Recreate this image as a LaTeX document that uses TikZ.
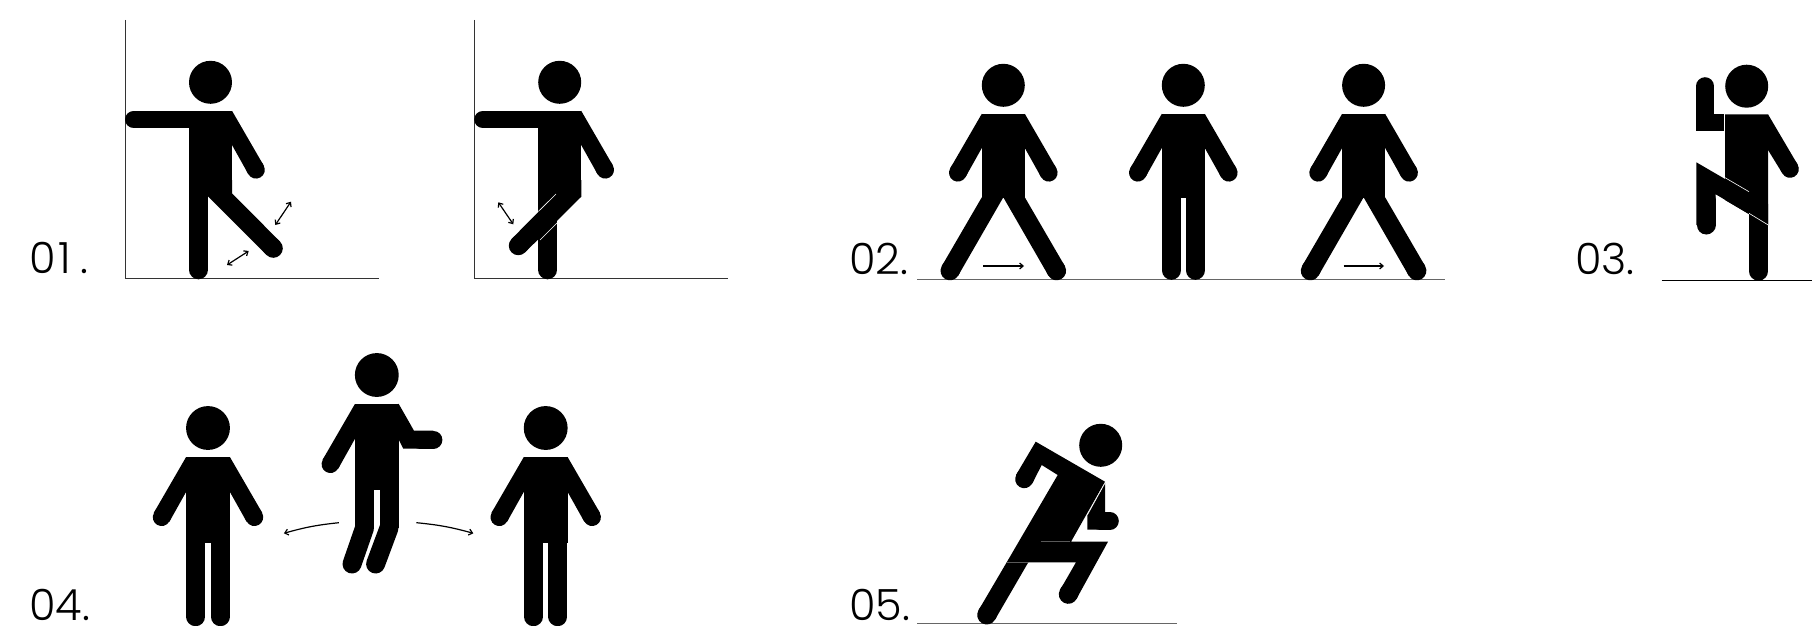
\documentclass[tikz,border=0pt]{standalone}
\usepackage{fontspec}
\setmainfont{Poppins Light}
\usepackage{tikz}
\usetikzlibrary{arrows.meta}

\tikzset{
	>={Straight Barb[length=3.5pt,width=6pt]},
	arm/.style={line width=17.6pt,line cap=round},
	leg/.style={line width=19pt,line cap=round},
	motion/.style={line width=1.2pt},
	axis/.style={line width=1.2pt,draw=black!80},
	ground/.style={line width=1.5pt,draw=black!60},
	seam/.style={line width=0.6pt,draw=white},
	grayseam/.style={line width=0.8pt,draw=black!65},
	lab/.style={anchor=base west,inner sep=0pt,font=\fontsize{43}{43}\selectfont}
}

\newcommand{\armdown}{
	\fill (21.5,28.5) -- (53.14,83.13) -- (37.86,91.87) -- (21.5,62.7) -- cycle;
	\draw[arm] (45.5,87.5) -- (44,84.9);
}
\newcommand{\headtorso}{
	\fill (0,0) circle (21.5);
	\fill (-21.5,28.5) rectangle (21.5,113);
}
\newcommand{\upperbody}{
	\headtorso
	\armdown
	\begin{scope}[xscale=-1]
		\armdown
	\end{scope}
}
\newcommand{\straightlegs}{
	\draw[leg] (-12,185) -- (-12,105);
	\draw[leg] (12,185) -- (12,105);
}
\newcommand{\strideleg}{
	\fill (21.5,112) -- (61.5,180.75) -- (45.1,190.25) -- (0,112) -- cycle;
	\draw[leg] (53.3,185.5) -- (52,183.2);
}
\newcommand{\stridelegs}{
	\strideleg
	\begin{scope}[xscale=-1]
		\strideleg
	\end{scope}
}
\newcommand{\wallbody}{
	\draw[axis] (-85,-62.3) -- (-85,196) -- (168.3,196);
	\headtorso
	\armdown
	\draw[arm] (-76.7,37.2) -- (-10,37.2);
	\draw[leg] (-12,187.5) -- (-12,105);
}

\begin{document}
\begin{tikzpicture}[x=1pt,y=-1pt]
	\useasboundingbox (0,0) rectangle (1812,626);

	\node[lab] (L1) at (29,273.5) {0\kern3pt 1\kern9pt.};
	\node[lab] (L2) at (849,274) {02.};
	\node[lab] (L3) at (1575,274) {03.};
	\node[lab] (L4) at (29,620) {04.};
	\node[lab] (L5) at (849,620) {05.};

	\begin{scope}[shift={(210.5,82.3)}]
		\wallbody
	\end{scope}
	\fill (232,180) -- (232,193.3) -- (280,241.6) -- (266.6,255) -- (208,196.4) -- (208,180) -- cycle;
	\draw[leg] (273.3,248.3) -- (271,246);
	\coordinate (A1) at (291,201.7);
	\coordinate (A2) at (275.3,225);
	\coordinate (A3) at (248.7,251);
	\coordinate (A4) at (227,265);
	\draw[motion,<->] (A1) -- (A2);
	\draw[motion,<->] (A3) -- (A4);

	\begin{scope}[shift={(559.7,82.3)}]
		\wallbody
	\end{scope}
	\fill (581.3,180) -- (581.3,196.7) -- (525,252.4) -- (511.6,239) -- (556,194) -- (556,180) -- cycle;
	\draw[leg] (518.3,245.7) -- (520.6,243.4);
	\draw[seam] (556,194) -- (538.3,211.5);
	\draw[seam] (557.3,222.7) -- (540,240);
	\coordinate (B1) at (498.3,202.3);
	\coordinate (B2) at (513.3,224.3);
	\draw[motion,<->] (B1) -- (B2);

	\draw[ground] (917.3,279.7) -- (1444.5,279.7);
	\begin{scope}[shift={(1003.3,85.3)}]
		\upperbody
		\stridelegs
	\end{scope}
	\begin{scope}[shift={(1183.3,85.3)}]
		\upperbody
		\straightlegs
	\end{scope}
	\begin{scope}[shift={(1363.6,85.3)}]
		\upperbody
		\stridelegs
	\end{scope}
	\coordinate (C1) at (983.3,266);
	\coordinate (C2) at (1024,266);
	\coordinate (C3) at (1343.5,266);
	\coordinate (C4) at (1384,266);
	\draw[motion,->] (C1) -- (C2);
	\draw[motion,->] (C3) -- (C4);

	\draw[line width=1pt] (1661.7,280.3) -- (1812,280.3);
	\fill (1746.7,86.2) circle (21.5);
	\fill (1725,114.3) -- (1768,114.3) -- (1768,225.3) -- (1725,200) -- cycle;
	\fill (1768,114.3) -- (1797.6,164.6) -- (1782.4,173.4) -- (1768,150) -- cycle;
	\draw[arm] (1790,169) -- (1788.7,166.7);
	\fill (1696.3,114.3) rectangle (1724.5,130.7);
	\draw[arm] (1705.1,86) -- (1705.1,120);
	\fill (1696.3,162.3) -- (1768,204) -- (1768,225.3) -- (1715.7,194.3) -- (1715.7,225) -- (1696.3,225) -- cycle;
	\draw[leg] (1706,225) -- (1706,200);
	\draw[leg] (1758.5,271.2) -- (1758.5,212);
	\draw[seam] (1724.5,114.3) -- (1724.5,130.7);
	\draw[seam] (1725,177.7) -- (1749,191.7);
	\draw[seam] (1749,213.3) -- (1768.7,225.3);

	\begin{scope}[shift={(208,428)},scale=1.02]
		\upperbody
		\straightlegs
	\end{scope}
	\begin{scope}[shift={(545.7,428)},scale=1.02]
		\upperbody
		\straightlegs
	\end{scope}
	\begin{scope}[shift={(376.8,375)},scale=1.02]
		\headtorso
		\begin{scope}[xscale=-1]
			\armdown
		\end{scope}
	\end{scope}
	\fill (398.6,403.7) -- (414,430.7) -- (433.4,430.7) -- (433.4,448.7) -- (403.3,448.7) -- (398.6,439.3) -- cycle;
	\draw[arm,line width=18pt] (433.4,439.7) -- (420,439.7);
	\fill (355,485) rectangle (374,528);
	\fill (379.6,485) rectangle (398.6,528);
	\draw[leg] (352,564) -- (364.5,528);
	\draw[leg] (375.6,564) -- (389,528);
	\coordinate (D1) at (338.9,522.7);
	\coordinate (D2) at (283.9,533.3);
	\coordinate (D3) at (416.4,522.7);
	\coordinate (D4) at (473.3,533.3);
	\draw[motion,->] (D1) to[bend right=5] (D2);
	\draw[motion,->] (D3) to[bend left=5] (D4);

	\draw[ground] (917.3,623.7) -- (1176.7,623.7);
	\fill (1100.7,445.3) circle (21.5);
	\fill (1035.7,441.7) -- (1105,481.7) -- (1071,541.7) -- (1108,541.7) -- (1076.4,599) -- (1060.2,589.7) -- (1076,562.3) -- (1028.3,562.3) -- (994.9,619.8) -- (978.5,610.3) -- (1006.7,562.3) -- (1057.7,475) -- (1041.7,465) -- (1032.3,483.3) -- (1016,475) -- cycle;
	\draw[arm,line width=18pt] (1024.2,479.2) -- (1025.5,477);
	\draw[leg] (1068.3,594.3) -- (1069.5,592);
	\draw[leg] (986.7,615) -- (988,612.7);
	\fill (1105,483) -- (1105,512.7) -- (1110,512.7) -- (1110,529.7) -- (1087.3,529.7) -- (1087.3,515) -- cycle;
	\draw[arm] (1110,521) -- (1100,521);
	\draw[seam] (1105,483) -- (1087.3,515);
	\draw[grayseam] (1040.7,541.7) -- (1070,541.7);
	\draw[grayseam] (1006.7,562.3) -- (1028.3,562.3);
\end{tikzpicture}
\end{document}
